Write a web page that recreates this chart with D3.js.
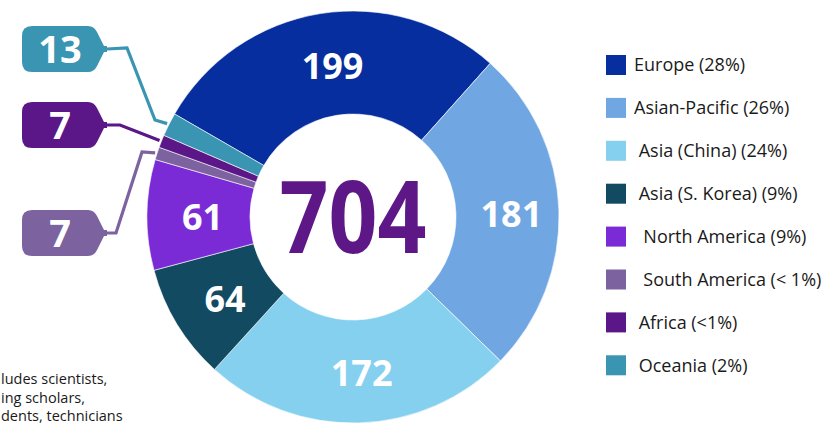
<!DOCTYPE html>
<html>
<head>
<meta charset="utf-8">
<script src="https://cdn.jsdelivr.net/npm/d3@7"></script>
<style>
  html, body { margin: 0; padding: 0; background: #fff; overflow: hidden; }
  svg { display: block; }
</style>
</head>
<body>
<script>
// data
const regions = ["Europe", "Asian-Pacific", "Asia (China)", "Asia (S. Korea)", "North America", "South America", "Africa", "Oceania"];
const counts = [199, 181, 172, 64, 61, 7, 7, 13];
const legendLabels = ["Europe (28%)", "Asian-Pacific (26%)", " Asia (China) (24%)", " Asia (S. Korea) (9%)", "  North America (9%)", "  South America (< 1%)", " Africa (<1%)", " Oceania (2%)"];
const colors = ["#062e9e", "#70a7e2", "#86d0ef", "#124a61", "#7b2bd6", "#7c629f", "#5b1787", "#3995b2"];
const totalLabel = "704";
// footnote as far as it shows (the rest runs off the left edge)
const footnote = ["ludes scientists,", "ing scholars,", "dents, technicians"];
// small slices shown with callouts instead of inner labels
const callouts = ["Oceania", "Africa", "South America"];

const width = 832, height = 425;
const cx = 353, cy = 217, outerR = 206, innerR = 103;

const svg = d3.select("body").append("svg")
  .attr("width", width)
  .attr("height", height);

const pie = d3.pie()
  .sort(null)
  .startAngle(-Math.PI / 3)
  .endAngle(-Math.PI / 3 + 2 * Math.PI);

const arcs = pie(counts).map((d, i) => ({ ...d, region: regions[i], color: colors[i] }));

const arc = d3.arc().innerRadius(innerR).outerRadius(outerR);

const g = svg.append("g").attr("transform", `translate(${cx},${cy})`);

g.selectAll("path.slice")
  .data(arcs)
  .join("path")
  .attr("class", "slice")
  .attr("d", arc)
  .attr("fill", (d) => d.color)
  .attr("stroke", "#fff")
  .attr("stroke-width", 0.6);

// numbers inside the big slices
g.selectAll("text.val")
  .data(arcs.filter((d) => !callouts.includes(d.region)))
  .join("text")
  .attr("class", "val")
  .attr("x", (d) => arc.centroid(d)[0] + 4)
  .attr("y", (d) => arc.centroid(d)[1] + 2)
  .attr("dy", "0.36em")
  .attr("text-anchor", "middle")
  .attr("font-family", "Open Sans, sans-serif")
  .attr("font-weight", 700)
  .attr("font-size", 36)
  .attr("fill", "#fff")
  .text((d) => d.data);

// total in the middle
svg.append("text")
  .attr("x", cx)
  .attr("y", cy)
  .attr("dy", "0.36em")
  .attr("text-anchor", "middle")
  .attr("font-family", "Open Sans, sans-serif")
  .attr("font-weight", 700)
  .attr("font-size", 100)
  .attr("textLength", 147)
  .attr("lengthAdjust", "spacingAndGlyphs")
  .attr("fill", "#5e1786")
  .text(totalLabel);

// callout boxes (tag shape), box layout + elbow points
const calloutLayout = {
  Oceania: { y: 26, elbows: [[127, 48], [155, 120]] },
  Africa: { y: 102, elbows: [[120, 125]] },
  "South America": { y: 210, elbows: [[116, 233], [142, 152]] },
};
const boxX = 22, boxW = 72, boxH = 46, neck = 107;

function tagPath(x, y, w, h) {
  const r = 10, my = y + h / 2;
  return `M${x + r},${y} H${x + w - 6} Q${x + w},${y} ${x + w + 3},${y + 6}
    L${neck - 3},${my - 3} H${neck} V${my + 3} H${neck - 3}
    L${x + w + 3},${y + h - 6} Q${x + w},${y + h} ${x + w - 6},${y + h}
    H${x + r} Q${x},${y + h} ${x},${y + h - r} V${y + r} Q${x},${y} ${x + r},${y} Z`;
}

const line = d3.line();
const edgeArc = d3.arc().innerRadius(outerR + 2).outerRadius(outerR + 2);

arcs.filter((d) => callouts.includes(d.region)).forEach((d) => {
  const L = calloutLayout[d.region];
  const my = L.y + boxH / 2;
  const end = edgeArc.centroid(d);
  const pts = [[neck, my], ...L.elbows, [end[0] + cx, end[1] + cy]];
  svg.append("path")
    .attr("d", line(pts))
    .attr("fill", "none")
    .attr("stroke", d.color)
    .attr("stroke-width", 3.2);
  svg.append("path")
    .attr("d", tagPath(boxX, L.y, boxW, boxH))
    .attr("fill", d.color);
  svg.append("text")
    .attr("x", boxX + 38)
    .attr("y", my)
    .attr("dy", "0.36em")
    .attr("text-anchor", "middle")
    .attr("font-family", "Open Sans, sans-serif")
    .attr("font-weight", 700)
    .attr("font-size", 38)
    .attr("fill", "#fff")
    .text(d.data);
});

// legend
const legend = svg.append("g").attr("transform", "translate(606,55)");
const rows = legend.selectAll("g")
  .data(legendLabels)
  .join("g")
  .attr("transform", (d, i) => `translate(0,${i * 42.9})`);
rows.append("rect")
  .attr("width", 20)
  .attr("height", 20)
  .attr("fill", (d, i) => colors[i]);
rows.append("text")
  .attr("x", 28)
  .attr("y", 10)
  .attr("dy", "0.36em")
  .attr("font-family", "Open Sans, sans-serif")
  .attr("font-size", 18)
  .attr("fill", "#1a1a1a")
  .style("white-space", "pre")
  .text((d) => d);

// footnote
svg.append("g")
  .selectAll("text")
  .data(footnote)
  .join("text")
  .attr("x", 1)
  .attr("y", (d, i) => 384 + i * 18.5)
  .attr("font-family", "Open Sans, sans-serif")
  .attr("font-size", 14.5)
  .attr("fill", "#1a1a1a")
  .text((d) => d);
</script>
</body>
</html>
